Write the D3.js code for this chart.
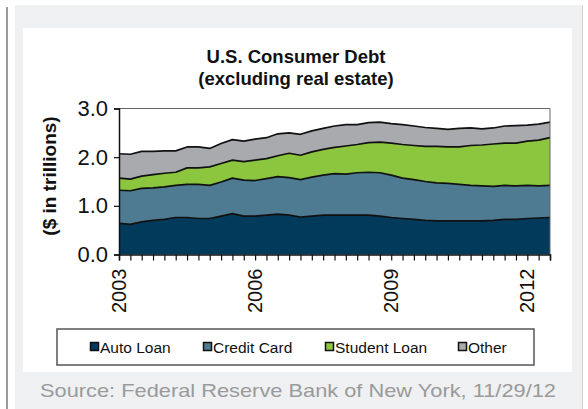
<!DOCTYPE html>
<html>
<head>
<meta charset="utf-8">
<script src="https://cdn.jsdelivr.net/npm/d3@7"></script>
<style>
  body { margin: 0; background: #fff; }
  svg { display: block; font-family: "Liberation Sans", Arial, sans-serif; }
</style>
</head>
<body>
<div id="chart"></div>
<script>
// quarterly data, 2003Q1 .. 2012Q3 ($ trillions)
const quarters = [
  "2003Q1","2003Q2","2003Q3","2003Q4","2004Q1","2004Q2","2004Q3","2004Q4",
  "2005Q1","2005Q2","2005Q3","2005Q4","2006Q1","2006Q2","2006Q3","2006Q4",
  "2007Q1","2007Q2","2007Q3","2007Q4","2008Q1","2008Q2","2008Q3","2008Q4",
  "2009Q1","2009Q2","2009Q3","2009Q4","2010Q1","2010Q2","2010Q3","2010Q4",
  "2011Q1","2011Q2","2011Q3","2011Q4","2012Q1","2012Q2","2012Q3"
];
const autoLoan = [0.64,0.62,0.67,0.70,0.72,0.76,0.76,0.74,0.74,0.79,0.84,0.79,0.79,0.81,0.83,0.81,0.77,0.79,0.81,0.81,
  0.81,0.81,0.81,0.79,0.76,0.74,0.72,0.70,0.69,0.69,0.69,0.69,0.69,0.70,0.72,0.72,0.74,0.75,0.76];
const creditCard = [0.68,0.69,0.69,0.67,0.67,0.66,0.68,0.70,0.68,0.70,0.73,0.74,0.73,0.75,0.77,0.77,0.77,0.80,0.82,0.85,
  0.84,0.87,0.88,0.89,0.87,0.83,0.82,0.80,0.78,0.77,0.75,0.73,0.72,0.70,0.70,0.69,0.68,0.66,0.66];
const studentLoan = [0.25,0.24,0.25,0.27,0.28,0.27,0.34,0.34,0.38,0.38,0.37,0.38,0.42,0.41,0.43,0.50,0.50,0.52,0.53,0.54,
  0.58,0.58,0.61,0.63,0.66,0.69,0.70,0.72,0.75,0.75,0.77,0.82,0.84,0.87,0.87,0.88,0.91,0.94,0.98];
const otherDebt = [0.50,0.51,0.51,0.48,0.46,0.44,0.43,0.43,0.38,0.41,0.42,0.42,0.43,0.43,0.45,0.42,0.43,0.43,0.43,0.44,
  0.44,0.41,0.41,0.41,0.40,0.41,0.40,0.39,0.37,0.36,0.38,0.36,0.33,0.33,0.35,0.36,0.33,0.33,0.32];

const seriesNames = ["Auto Loan", "Credit Card", "Student Loan", "Other"];
const seriesColors = ["#023a5c", "#4e7b92", "#8cc63f", "#a8aaad"];
const yTicks = [0, 1, 2, 3];
const yearLabels = ["2003", "2006", "2009", "2012"];

const width = 588, height = 409;
const svg = d3.select("#chart").append("svg")
  .attr("width", width).attr("height", height);

/* frame: side rule, grey panel, white card */
svg.append("rect").attr("x", 6).attr("y", 7).attr("width", 2).attr("height", height - 7).attr("fill", "#9a9a9a");
svg.append("rect").attr("x", 15).attr("y", 5).attr("width", 567).attr("height", height - 5).attr("fill", "#eef0f2");
svg.append("rect").attr("x", 582).attr("y", 5).attr("width", 1).attr("height", height - 5).attr("fill", "#cfd1d4");
svg.append("rect").attr("x", 23).attr("y", 28).attr("width", 549).attr("height", 344).attr("fill", "#fff");

/* title */
const title = svg.append("text").attr("text-anchor", "middle").attr("font-weight", "bold")
  .attr("font-size", 18.5).attr("fill", "#111");
title.append("tspan").attr("x", 296).attr("y", 63).text("U.S. Consumer Debt");
title.append("tspan").attr("x", 296).attr("y", 85).text("(excluding real estate)");

/* scales */
const x = d3.scalePoint().domain(quarters).range([119, 550]);
const y = d3.scaleLinear().domain([0, 3]).range([254.5, 108.5]);

const rows = quarters.map((q, i) => ({
  q: q,
  "Auto Loan": autoLoan[i],
  "Credit Card": creditCard[i],
  "Student Loan": studentLoan[i],
  "Other": otherDebt[i]
}));
const stacked = d3.stack().keys(seriesNames)(rows);

const area = d3.area()
  .x(d => x(d.data.q))
  .y0(d => y(d[0]))
  .y1(d => y(d[1]));
const topLine = d3.line()
  .x(d => x(d.data.q))
  .y(d => y(d[1]));

const g = svg.append("g");
g.selectAll("path.area").data(stacked).join("path")
  .attr("class", "area")
  .attr("d", area)
  .attr("fill", (d, i) => seriesColors[i]);
g.selectAll("path.edge").data(stacked).join("path")
  .attr("class", "edge")
  .attr("d", topLine)
  .attr("fill", "none")
  .attr("stroke", "#111")
  .attr("stroke-width", 1.7)
  .attr("stroke-linejoin", "round");

/* plot border (top / right) */
svg.append("path")
  .attr("d", `M${x.range()[0]},${y(3)}H${x.range()[1]}V${y(0)}`)
  .attr("fill", "none").attr("stroke", "#666").attr("stroke-width", 1);

/* y axis */
const yAxis = svg.append("g")
  .attr("transform", `translate(${x.range()[0]},0)`)
  .call(d3.axisLeft(y).tickValues(yTicks).tickFormat(d3.format(".1f")).tickSize(5).tickPadding(6));
yAxis.select(".domain").attr("stroke", "#111").attr("stroke-width", 1.5);
yAxis.selectAll(".tick line").attr("stroke", "#111").attr("stroke-width", 1.2);
yAxis.selectAll(".tick text").attr("font-size", 22).attr("fill", "#111")
  .attr("font-family", "'Liberation Sans', Arial, sans-serif");

svg.append("text")
  .attr("transform", "translate(56,176) rotate(-90)")
  .attr("text-anchor", "middle")
  .attr("font-weight", "bold").attr("font-size", 19).attr("fill", "#111")
  .text("($ in trillions)");

/* x axis: a tick each quarter, a year label every third year */
const xAxis = svg.append("g")
  .attr("transform", `translate(0,${y(0)})`)
  .call(d3.axisBottom(x).tickSize(6).tickFormat(""));
xAxis.select(".domain").attr("stroke", "#111").attr("stroke-width", 1.5);
xAxis.selectAll(".tick line").attr("stroke", "#111").attr("stroke-width", 1.2);

svg.append("g").selectAll("text").data(yearLabels).join("text")
  .attr("transform", d => `translate(${x(d + "Q1") + 7},${y(0) + 14}) rotate(-90)`)
  .attr("text-anchor", "end")
  .attr("font-size", 20).attr("fill", "#111")
  .text(d => d);

/* legend */
svg.append("rect").attr("x", 57).attr("y", 329).attr("width", 477).attr("height", 36)
  .attr("fill", "#fff").attr("stroke", "#555").attr("stroke-width", 1.5);
const legendX = [90, 203, 325, 458];
const item = svg.append("g").selectAll("g").data(seriesNames).join("g")
  .attr("transform", (d, i) => `translate(${legendX[i]},347)`);
item.append("rect").attr("x", 0.5).attr("y", -4.5).attr("width", 8).attr("height", 8)
  .attr("fill", (d, i) => seriesColors[i]).attr("stroke", "#111").attr("stroke-width", 1.5);
item.append("text").attr("x", 10).attr("y", 5.5).attr("font-size", 15.5).attr("fill", "#111")
  .text(d => d);

/* source */
svg.append("text").attr("x", 40).attr("y", 397)
  .attr("font-size", 19).attr("fill", "#9a9a9a")
  .attr("textLength", 516).attr("lengthAdjust", "spacingAndGlyphs")
  .text("Source: Federal Reserve Bank of New York, 11/29/12");
</script>
</body>
</html>
